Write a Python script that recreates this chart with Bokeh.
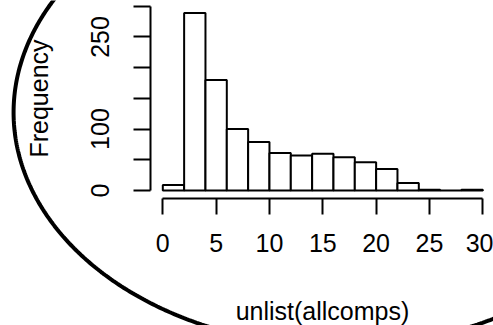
import numpy as np
from bokeh.plotting import figure
from bokeh.models import FixedTicker, Range1d
from bokeh.embed import file_html
from bokeh.resources import INLINE

# histogram data (bin width 2)
bin_edges = [0, 2, 4, 6, 8, 10, 12, 14, 16, 18, 20, 22, 24, 26, 28, 30]
counts = [9, 289, 180, 100, 79, 61, 57, 60, 54, 46, 35, 12, 1, 0, 1]
x_ticks = [0, 5, 10, 15, 20, 25, 30]
y_ticks = [0, 50, 100, 150, 200, 250, 300]
y_shown = [0, 100, 250]
x_label = "unlist(allcomps)"
y_label = "Frequency"

FONT = "Liberation Sans"

# frame covers the whole canvas; axes sit at fixed positions (R-style offset axes)
p = figure(width=493, height=325, output_backend="svg", toolbar_location=None,
           x_range=Range1d(-15.216, 31.003), y_range=Range1d(-219.8, 309.3),
           min_border=0)
p.outline_line_color = None
p.background_fill_color = "white"
p.border_fill_color = "white"
p.grid.visible = False

p.quad(left=bin_edges[:-1], right=bin_edges[1:], bottom=0, top=counts,
       fill_color="white", line_color="black", line_width=2)

# axes
for ax in (p.xaxis, p.yaxis):
    ax.axis_line_width = 2
    ax.major_tick_line_width = 2
    ax.major_tick_in = 0
    ax.minor_tick_line_color = None
    ax.major_label_text_font = FONT
    ax.major_label_text_font_size = "25px"
    ax.major_label_text_color = "black"
    ax.axis_label_text_font = FONT
    ax.axis_label_text_font_size = "25px"
    ax.axis_label_text_font_style = "normal"
    ax.axis_label_text_color = "black"

p.xaxis.fixed_location = -12.53
p.xaxis.ticker = FixedTicker(ticks=x_ticks)
p.xaxis.bounds = (x_ticks[0], x_ticks[-1])
p.xaxis.major_tick_out = 16
p.xaxis.major_label_standoff = 20
p.xaxis.axis_label = x_label
p.xaxis.axis_label_standoff = 41

p.yaxis.fixed_location = -1.153
p.yaxis.ticker = FixedTicker(ticks=y_ticks)
p.yaxis.bounds = (y_ticks[0], y_ticks[-1])
p.yaxis.major_tick_out = 17
p.yaxis.major_label_standoff = 25
p.yaxis.major_label_orientation = "vertical"
p.yaxis.major_label_overrides = {t: ("" if t not in y_shown else str(t)) for t in y_ticks}
p.yaxis.axis_label = y_label
p.yaxis.axis_label_standoff = 35

# decorative oval frame around the figure (centre and semi-axes in data units)
oval_cx, oval_cy, oval_rx, oval_ry = 16.57, 127.0, 30.56, 380.9
theta = np.linspace(0, 2 * np.pi, 721)
p.line(x=oval_cx + oval_rx * np.cos(theta), y=oval_cy + oval_ry * np.sin(theta),
       line_color="black", line_width=4)

open("out.html", "w").write(file_html(p, INLINE))
